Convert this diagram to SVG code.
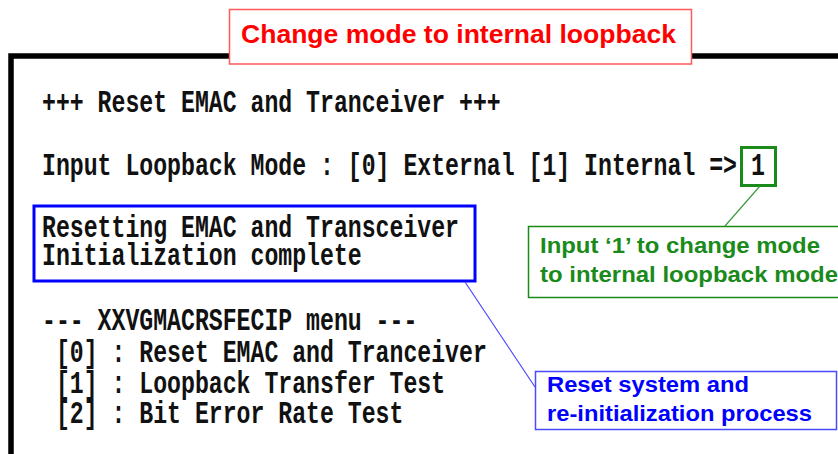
<svg xmlns="http://www.w3.org/2000/svg" width="838" height="454" viewBox="0 0 838 454">
<style>
.term{font-family:"Liberation Mono","DejaVu Sans Mono",monospace;font-weight:bold;font-size:31px;fill:#111}
.lbl{font-family:"Liberation Sans",Arial,sans-serif;font-weight:bold}
</style>
<rect x="0" y="0" width="838" height="454" fill="#fff"/>
<g id="terminal">
<rect x="11" y="56" width="860" height="440" fill="#fff" stroke="#000" stroke-width="5.5"/>
<text class="term" x="42" y="112" textLength="458.7" lengthAdjust="spacingAndGlyphs">+++ Reset EMAC and Tranceiver +++</text>
<text class="term" x="42" y="175" textLength="695" lengthAdjust="spacingAndGlyphs">Input Loopback Mode : [0] External [1] Internal =&gt;</text>
<text class="term" x="42" y="237" textLength="417" lengthAdjust="spacingAndGlyphs">Resetting EMAC and Transceiver</text>
<text class="term" x="42" y="265" textLength="319.7" lengthAdjust="spacingAndGlyphs">Initialization complete</text>
<text class="term" x="42" y="330" textLength="375.3" lengthAdjust="spacingAndGlyphs">--- XXVGMACRSFECIP menu ---</text>
<text class="term" x="55.9" y="362" textLength="430.9" lengthAdjust="spacingAndGlyphs">[0] : Reset EMAC and Tranceiver</text>
<text class="term" x="55.9" y="393" textLength="389.2" lengthAdjust="spacingAndGlyphs">[1] : Loopback Transfer Test</text>
<text class="term" x="55.9" y="423" textLength="347.5" lengthAdjust="spacingAndGlyphs">[2] : Bit Error Rate Test</text>
</g>
<g id="title">
<rect x="229.5" y="9.5" width="462" height="54.5" fill="#fff" stroke="#ff5a5a" stroke-width="1.5"/>
<text class="lbl" x="241" y="43" font-size="25" fill="#ff0000" textLength="435" lengthAdjust="spacingAndGlyphs">Change mode to internal loopback</text>
</g>
<g id="input-box">
<rect x="741.5" y="147.5" width="34" height="38" fill="none" stroke="#1a8a1a" stroke-width="3"/>
<text class="term" x="750.9" y="175" textLength="13.9" lengthAdjust="spacingAndGlyphs">1</text>
</g>
<g id="reset-box">
<rect x="34" y="206" width="441" height="75" fill="none" stroke="#0000ff" stroke-width="3"/>
</g>
<g id="connectors">
<line x1="760" y1="186" x2="725" y2="226" stroke="#3a9a3a" stroke-width="1.2"/>
<line x1="465" y1="282" x2="535" y2="387" stroke="#4a4aff" stroke-width="1.2"/>
</g>
<g id="note-input">
<rect x="528.5" y="226.5" width="330" height="71" fill="#fff" stroke="#1a8a1a" stroke-width="1.5"/>
<text class="lbl" x="540" y="253" font-size="22" fill="#1a8a1a" textLength="280" lengthAdjust="spacingAndGlyphs">Input ‘1’ to change mode</text>
<text class="lbl" x="540" y="282" font-size="22" fill="#1a8a1a" textLength="298" lengthAdjust="spacingAndGlyphs">to internal loopback mode</text>
</g>
<g id="note-reset">
<rect x="535.5" y="371.5" width="301" height="58" fill="#fff" stroke="#4a4aff" stroke-width="1.5"/>
<text class="lbl" x="547" y="392" font-size="22" fill="#0000ff" textLength="202" lengthAdjust="spacingAndGlyphs">Reset system and</text>
<text class="lbl" x="547" y="421" font-size="22" fill="#0000ff" textLength="265" lengthAdjust="spacingAndGlyphs">re-initialization process</text>
</g>
</svg>
